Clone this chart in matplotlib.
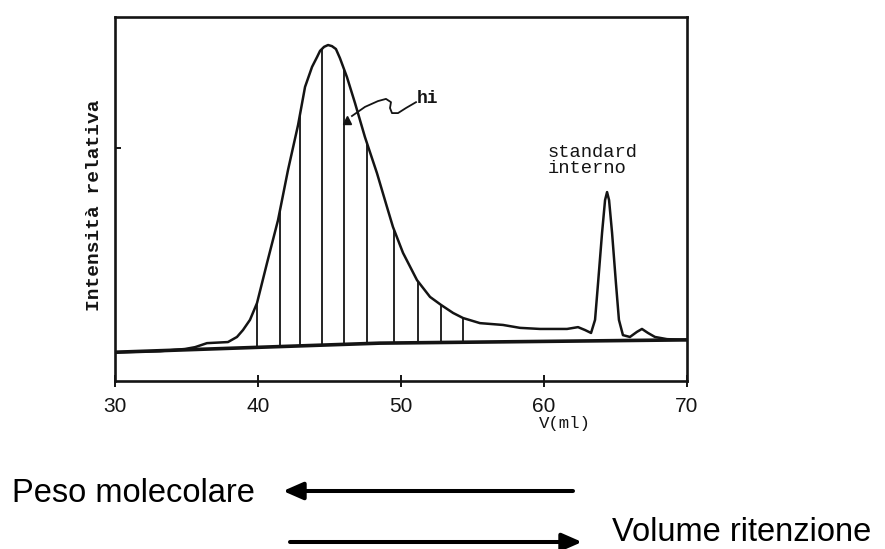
import numpy as np
import matplotlib
matplotlib.use("Agg")
import matplotlib.pyplot as plt

# ---- data ----
# chromatogram trace: retention volume (ml) and relative intensity (arb. units, 0-100)
curve_v = [30.0, 33.15, 34.9, 35.6, 36.43, 37.9, 38.53, 38.95, 39.44, 39.93, 40.63,
           41.40, 42.10, 42.80, 43.29, 43.78, 44.13, 44.34, 44.62, 44.90, 45.17,
           45.45, 45.73, 46.22, 46.78, 47.48, 48.32, 49.02, 49.44, 50.14, 51.12,
           52.03, 52.80, 53.64, 54.34, 55.52, 57.13, 58.32, 59.72, 61.61, 62.38,
           62.87, 63.29, 63.57, 63.78, 64.06, 64.27, 64.41, 64.55, 64.76, 65.03,
           65.24, 65.52, 66.01, 66.50, 66.85, 67.27, 67.76, 68.60, 69.86, 70.0]
curve_y = [7.9, 8.2, 8.8, 9.3, 10.4, 10.7, 12.1, 14.0, 16.8, 21.4, 32.4,
           44.2, 58.0, 70.3, 80.8, 86.3, 89.0, 90.7, 91.8, 92.3, 92.0,
           91.2, 88.7, 83.5, 76.4, 67.0, 57.1, 47.8, 42.3, 35.2, 27.7,
           23.1, 20.9, 18.7, 17.3, 15.9, 15.4, 14.6, 14.3, 14.3, 14.8,
           14.0, 13.2, 16.8, 26.9, 40.7, 49.7, 51.9, 49.7, 40.7, 26.9,
           16.8, 12.6, 12.1, 13.5, 14.3, 13.2, 12.1, 11.5, 11.3, 11.3]

# baseline drawn under the trace
base_v = [30.0, 48.5, 70.0]
base_y = [7.9, 10.4, 11.3]

# slices (h_i) positions
slice_v = [39.93, 41.54, 42.94, 44.48, 46.01, 47.62, 49.51, 51.19, 52.80, 54.34]

# leader line from the h_i marker to the label
hi_mark = (46.22, 71.7)
hi_lead_v = [46.57, 47.48, 48.39, 48.95, 49.30, 49.23, 49.37, 49.79, 50.35, 51.05]
hi_lead_y = [72.8, 75.3, 76.9, 77.5, 76.6, 75.0, 73.6, 73.6, 75.0, 76.6]

x_ticks = [30, 40, 50, 60, 70]
y_ticks = [64.0]

ink = "#141414"
mono = ["Liberation Mono", "DejaVu Sans Mono"]
sans = ["Liberation Sans", "DejaVu Sans"]

fig = plt.figure(figsize=(8.85, 5.49), dpi=100)
ax = fig.add_axes([115 / 885, 1 - 381 / 549, 572 / 885, 364 / 549])
ax.set_xlim(30, 70)
ax.set_ylim(0, 100)

for s in ax.spines.values():
    s.set_linewidth(1.9)
    s.set_color(ink)

# baseline
ax.plot(base_v, base_y, color=ink, lw=2.6, solid_capstyle="butt", zorder=3)
# trace
ax.plot(curve_v, curve_y, color=ink, lw=1.8, solid_joinstyle="round", zorder=4)
# slices
slice_top = np.interp(slice_v, curve_v, curve_y)
slice_bot = np.interp(slice_v, base_v, base_y)
ax.vlines(slice_v, slice_bot, slice_top, color=ink, lw=1.3, zorder=3)

# h_i marker and leader
ax.plot([hi_mark[0]], [hi_mark[1]], marker="^", ms=6, color=ink, zorder=5)
ax.plot(hi_lead_v, hi_lead_y, color=ink, lw=1.3, solid_joinstyle="round", zorder=5)
ax.text(51.12, 77.5, "hi", family=mono, fontsize=13, fontweight="bold",
        ha="left", va="center", color=ink)

ax.text(60.28, 60.6, "standard\ninterno", family=mono, fontsize=13.5,
        ha="left", va="center", linespacing=0.95, color=ink)

# ticks
ax.set_xticks(x_ticks)
ax.set_xticklabels([str(t) for t in x_ticks], family=sans, fontsize=15, color=ink)
ax.tick_params(axis="x", direction="inout", length=9, width=1.4, pad=7, colors=ink)
ax.set_yticks(y_ticks)
ax.set_yticklabels([])
ax.tick_params(axis="y", direction="in", length=4, width=1.4, colors=ink)

ax.text(-0.035, 0.484, "Intensità relativa", transform=ax.transAxes, rotation=90,
        family=mono, fontsize=14, fontweight="bold", ha="center", va="center", color=ink)
ax.text(0.787, -0.118, "V(ml)", transform=ax.transAxes, family=mono, fontsize=12.5,
        ha="center", va="center", color=ink)

# direction arrows and captions below the chart
fig.text(12 / 885, 1 - 502 / 549, "Peso molecolare", family=sans, fontsize=23.5,
         ha="left", va="baseline", color="black")
fig.text(612 / 885, 1 - 541 / 549, "Volume ritenzione", family=sans, fontsize=23.5,
         ha="left", va="baseline", color="black")
arrow_kw = dict(arrowstyle="-|>,head_length=0.8,head_width=0.35", lw=2.9,
                color="black", mutation_scale=15, shrinkA=0, shrinkB=0)
fig.add_artist(matplotlib.patches.FancyArrowPatch(
    (573 / 885, 1 - 491 / 549), (283 / 885, 1 - 491 / 549),
    transform=fig.transFigure, **arrow_kw))
fig.add_artist(matplotlib.patches.FancyArrowPatch(
    (290 / 885, 1 - 542 / 549), (582 / 885, 1 - 542 / 549),
    transform=fig.transFigure, **arrow_kw))

fig.savefig("out.png", dpi=100)
